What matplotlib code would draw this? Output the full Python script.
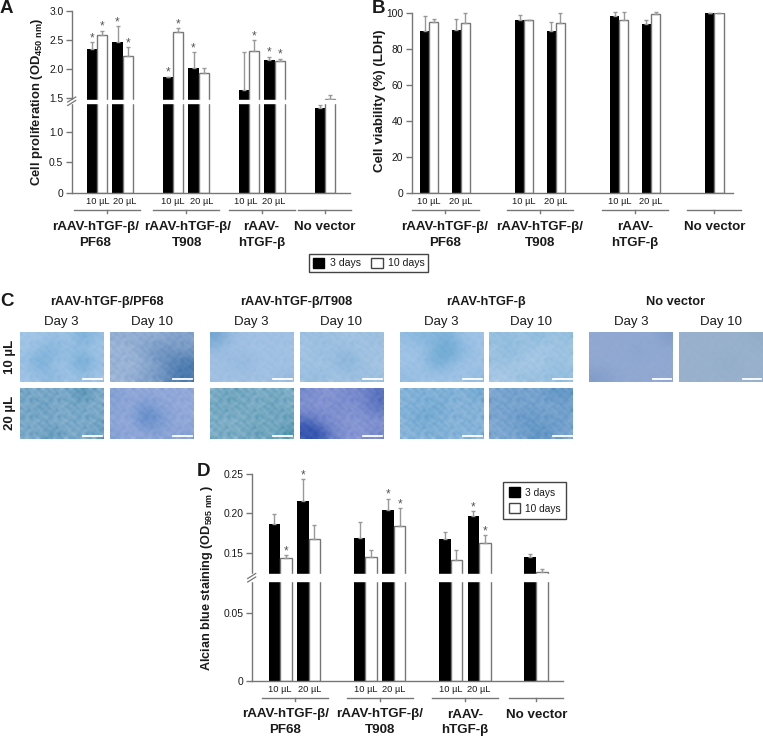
import numpy as np
import matplotlib
matplotlib.use('Agg')
import matplotlib.pyplot as plt
from matplotlib.colors import LinearSegmentedColormap
from matplotlib.lines import Line2D
from matplotlib.patches import Patch

W, H = 763, 737
plt.rcParams['font.family'] = ['Liberation Sans', 'DejaVu Sans']
plt.rcParams['mathtext.fontset'] = 'custom'
plt.rcParams['mathtext.rm'] = 'Liberation Sans'
plt.rcParams['mathtext.bf'] = 'Liberation Sans:bold'

# bar positions, in pair slots
pair_pos = [0, 1, 3, 4, 6, 7, 9]
group_names = ['rAAV-hTGF-β/\nPF68', 'rAAV-hTGF-β/\nT908', 'rAAV-\nhTGF-β', 'No vector']

# panel A
a_3d = [2.34, 2.46, 1.87, 2.02, 1.64, 2.15, 1.38]
a_10d = [2.58, 2.22, 2.64, 1.93, 2.31, 2.14, 1.48]
a_3d_err = [0.12, 0.27, 0, 0.27, 0.65, 0.06, 0.05]
a_10d_err = [0.08, 0.16, 0.06, 0.08, 0.19, 0.04, 0.08]
a_3d_star = [1, 1, 1, 1, 0, 1, 0]
a_10d_star = [1, 1, 1, 0, 1, 1, 0]
a_ticks = [0, 0.5, 1, 1.5, 2, 2.5, 3]
a_ticklabels = ['0', '0.5', '1.0', '1.5', '2.0', '2.5', '3.0']

# panel B
b_3d = [90, 90.5, 96.5, 90, 98.5, 94, 100]
b_10d = [95, 94.5, 96, 94.5, 96.5, 99.5, 100]
b_3d_err = [8.5, 6.5, 2.5, 5, 2, 2, 0]
b_10d_err = [2, 5.5, 0, 5.5, 4, 1, 0.3]
b_ticks = [0, 20, 40, 60, 80, 100]

# panel D
d_3d = [0.186, 0.216, 0.169, 0.204, 0.167, 0.197, 0.145]
d_10d = [0.143, 0.167, 0.145, 0.184, 0.141, 0.162, 0.125]
d_3d_err = [0.013, 0.028, 0.020, 0.015, 0.009, 0.006, 0.003]
d_10d_err = [0.004, 0.018, 0.009, 0.023, 0.012, 0.010, 0.004]
d_3d_star = [0, 1, 0, 1, 0, 1, 0]
d_10d_star = [1, 0, 0, 1, 0, 1, 0]
d_ticks = [0, 0.05, 0.15, 0.20, 0.25]
d_ticklabels = ['0', '0.05', '0.15', '0.20', '0.25']

# micrographs: blotch darkness 0-9, with its light and dark colour
c_titles = ['rAAV-hTGF-β/PF68', 'rAAV-hTGF-β/T908', 'rAAV-hTGF-β', 'No vector']
img_tones_10 = [
    [[1, 1, 2, 1, 5, 2], [1, 3, 4, 2, 2, 1], [2, 6, 1, 2, 7, 2], [1, 2, 3, 1, 2, 1]],
    [[2, 2, 2, 2, 3, 3], [1, 2, 3, 5, 4, 4], [2, 1, 2, 4, 6, 7], [1, 2, 3, 4, 6, 8]],
    [[6, 2, 1, 1, 1, 1], [2, 1, 1, 1, 1, 1], [1, 2, 3, 1, 1, 1], [1, 1, 1, 1, 1, 2]],
    [[2, 2, 2, 1, 2, 2], [1, 3, 2, 3, 1, 2], [2, 1, 3, 5, 2, 1], [2, 3, 1, 2, 2, 2]],
    [[2, 3, 3, 4, 1, 1], [1, 1, 4, 6, 3, 1], [1, 1, 5, 3, 1, 1], [2, 1, 1, 1, 1, 2]],
    [[3, 3, 2, 4, 2, 3], [2, 4, 3, 1, 2, 2], [3, 2, 1, 1, 3, 2], [1, 1, 3, 2, 3, 3]],
    [[3, 3, 3, 3, 3, 5], [3, 3, 3, 4, 3, 3], [3, 3, 3, 3, 3, 3], [5, 4, 3, 3, 3, 3]],
    [[3, 3, 3, 3, 3, 4], [3, 3, 3, 3, 3, 3], [3, 3, 3, 4, 3, 3], [3, 3, 3, 3, 3, 3]],
]
img_tones_20 = [
    [[4, 3, 4, 3, 8, 3], [3, 6, 3, 4, 3, 3], [4, 3, 3, 3, 4, 4], [3, 4, 6, 3, 3, 5]],
    [[3, 2, 2, 2, 2, 2], [3, 2, 5, 3, 2, 2], [2, 2, 7, 5, 2, 2], [3, 2, 2, 3, 2, 3]],
    [[3, 5, 4, 3, 4, 3], [4, 5, 3, 4, 5, 4], [3, 3, 3, 5, 3, 5], [3, 4, 3, 6, 3, 8]],
    [[3, 2, 2, 3, 3, 5], [2, 2, 3, 2, 3, 5], [5, 3, 2, 2, 2, 2], [9, 7, 3, 2, 2, 3]],
    [[3, 4, 3, 4, 3, 5], [4, 3, 6, 3, 3, 3], [3, 6, 4, 3, 4, 3], [3, 3, 4, 3, 3, 3]],
    [[3, 4, 4, 3, 6, 5], [4, 3, 4, 4, 3, 4], [3, 4, 6, 4, 5, 4], [3, 3, 4, 6, 5, 3]],
]
img_colours_10 = [
    ('#aecbec', '#4f97c9'), ('#b7c8e6', '#3268a4'), ('#abc6e8', '#5c98c8'), ('#b0cae8', '#5f9dcb'),
    ('#acc9ec', '#4a96c6'), ('#b5cfec', '#5a9ec9'), ('#a9badf', '#6d8fc0'), ('#a9bdd6', '#7d9dbd'),
]
img_colours_20 = [
    ('#9dbddd', '#2f7aa5'), ('#aeb6e2', '#3f76bd'), ('#9abcdb', '#2f7f9f'),
    ('#aab2e3', '#2245a8'), ('#a8c2e4', '#3d8bc0'), ('#9fbce2', '#3579b3'),
]
# how strong the fine mottling is in each picture
img_grain_10 = [0.2, 0.26, 0.16, 0.22, 0.16, 0.24, 0.06, 0.06]
img_grain_20 = [0.42, 0.24, 0.44, 0.22, 0.38, 0.32]
# hand-drawn mottling cell, tiled over a picture
grain_cell = [
    [2, 7, 4, 1, 8, 3, 6, 0, 5, 9, 2],
    [6, 1, 9, 5, 2, 7, 1, 8, 3, 4, 7],
    [3, 8, 0, 6, 4, 9, 5, 2, 7, 1, 5],
    [9, 4, 7, 2, 8, 0, 3, 6, 1, 8, 0],
    [1, 5, 3, 9, 1, 6, 8, 4, 9, 2, 6],
    [7, 0, 8, 4, 6, 2, 9, 1, 5, 7, 3],
    [4, 9, 2, 7, 0, 5, 3, 7, 2, 0, 8],
]
img_x = [(20, 103.3), (110, 193.3), (210, 293.3), (300, 383.3),
         (400, 483.3), (489.3, 573.3), (589.3, 672.7), (679.3, 762.7)]

AXIS = '#777777'
TXT = '#1a1a1a'


def fx(x):
    return x / W


def fy(y):
    return 1 - y / H


def px_axes(x0, y0, x1, y1):
    return fig.add_axes([fx(x0), fy(y1), (x1 - x0) / W, (y1 - y0) / H])


def broken_scale(ax, vals, pix):
    def fwd(v):
        return np.interp(v, vals, pix)

    def inv(p):
        return np.interp(p, pix, vals)
    ax.set_yscale('function', functions=(fwd, inv))
    ax.minorticks_off()
    ax.axhspan(vals[1], vals[2], xmin=-0.02, xmax=1, color='white', zorder=3, clip_on=False)


def bars(ax, y3, y10, e3, e10, width, star3=None, star10=None):
    pos = np.array(pair_pos, dtype=float)
    x3 = pos - width / 2
    x10 = pos + width / 2
    ax.bar(x3, y3, width, color='black', zorder=1)
    ax.bar(x10, y10, width, color='white', edgecolor=AXIS, linewidth=1, zorder=1)
    for x, y, e in ((x3, y3, e3), (x10, y10, e10)):
        ax.errorbar(x, y, yerr=[np.zeros(len(e)), e], fmt='none', ecolor='#999999',
                    elinewidth=1, capsize=1.6, capthick=1, zorder=2, clip_on=False)
    for x, y, e, st in ((x3, y3, e3, star3), (x10, y10, e10, star10)):
        if st is None:
            continue
        for xi, yi, ei, s in zip(x, y, e, st):
            if s:
                ax.annotate('*', (xi, yi + ei), xytext=(0, -1.5), textcoords='offset points',
                            ha='center', va='bottom', fontsize=8.5, color='#555555')


def style(ax, ticks, ticklabels, xlim):
    ax.set_xlim(*xlim)
    ax.set_xticks([])
    ax.set_yticks(ticks)
    ax.set_yticklabels(ticklabels, fontsize=7.4, color=TXT)
    ax.tick_params(axis='y', length=4, width=1, color=AXIS, pad=2)
    ax.spines[['top', 'right']].set_visible(False)
    ax.spines[['left', 'bottom']].set_color(AXIS)
    ax.spines[['left', 'bottom']].set_linewidth(1)
    ax.patch.set_alpha(0)


def under_axis(ax, ax_h, dose_pos, spans, label_x, label_drop):
    # dose labels, group rules with a small tick, group names
    trans = ax.get_xaxis_transform()
    for i, x in enumerate(dose_pos):
        ax.text(x, -9 / ax_h, '10 µL' if i % 2 == 0 else '20 µL', transform=trans,
                ha='center', va='center', fontsize=6.7, color=TXT)
    for a, b in spans:
        ax.plot([a, b], [-17.3 / ax_h] * 2, transform=trans, color=AXIS, lw=1, clip_on=False)
        ax.plot([(a + b) / 2] * 2, [-17.3 / ax_h, -20.3 / ax_h], transform=trans, color=AXIS,
                lw=1, clip_on=False)
    for name, x in zip(group_names, label_x):
        ax.text(x, -label_drop / ax_h, name, transform=trans, ha='center', va='top', fontsize=9.6,
                fontweight='bold', color=TXT, linespacing=1.42)


def break_marks(x, y):
    for dy in (0, 3.5):
        fig.add_artist(Line2D([fx(x - 4), fx(x + 4)], [fy(y + 2.5 + dy), fy(y - 2.5 + dy)],
                              color=AXIS, lw=0.9))


fig = plt.figure(figsize=(W / 100, H / 100), dpi=100)

# A
ax = px_axes(71.7, 10.7, 350, 192.7)
ax.set_ylim(0, 3)
broken_scale(ax, [0, 1.46, 1.47, 3.0], [0, 89.2, 92.7, 182])
bars(ax, a_3d, a_10d, a_3d_err, a_10d_err, 0.4, a_3d_star, a_10d_star)
style(ax, a_ticks, a_ticklabels, (-1.01, 9.98))
under_axis(ax, 182, [0, 1.1, 3, 4.12, 5.87, 6.98],
           [(-0.92, 1.69), (2.19, 4.79), (5.19, 7.8), (7.93, 10.03)],
           [-0.07, 3.56, 6.49, 8.99], 28.5)
break_marks(71.7, 99.5)
fig.text(fx(36.7), fy(101.7), r'Cell proliferation (OD$_{\mathbf{450\ nm}}$)', rotation=90, ha='center', va='center',
         fontsize=9.4, fontweight='bold', color=TXT)

# B
ax = px_axes(411.7, 13.3, 732.7, 192.7)
ax.set_ylim(0, 100)
bars(ax, b_3d, b_10d, b_3d_err, b_10d_err, 0.29)
style(ax, b_ticks, [str(t) for t in b_ticks], (-0.55, 9.58))
under_axis(ax, 179.4, [0, 1, 3, 4, 6, 7],
           [(-0.53, 1.56), (2.46, 4.55), (5.47, 7.55), (8.15, 9.83)],
           [0.5, 3.5, 6.5, 9.0], 28.5)
fig.text(fx(380), fy(101), 'Cell viability (%) (LDH)', rotation=90, ha='center', va='center',
         fontsize=9.6, fontweight='bold', color=TXT)

# D
ax = px_axes(251.7, 474.3, 563.3, 681)
ax.set_ylim(0, 0.25)
broken_scale(ax, [0, 0.074, 0.1228, 0.25], [0, 100.3, 107, 206.7])
bars(ax, d_3d, d_10d, d_3d_err, d_10d_err, 0.405, d_3d_star, d_10d_star)
style(ax, d_ticks, d_ticklabels, (-1.0, 9.96))
under_axis(ax, 206.7, [0, 1.03, 3, 4, 6, 7],
           [(-0.64, 1.70), (2.34, 4.68), (5.33, 7.68), (8.06, 9.94)],
           [0.18, 3.5, 6.5, 9.03], 27.5)
break_marks(251.7, 576)
fig.text(fx(206.7), fy(577.5), r'Alcian blue staining (OD$_{\mathbf{595\ nm}}$ )', rotation=90, ha='center', va='center',
         fontsize=9.1, fontweight='bold', color=TXT)

# legends
handles = [Patch(facecolor='black', edgecolor='black'), Patch(facecolor='white', edgecolor='#444444')]
leg_labels = ['3 days', '10 days']
fig.legend(handles, leg_labels, loc='center', bbox_to_anchor=(fx(368.7), fy(263)), ncol=2, fontsize=7.6,
           fancybox=False, edgecolor='#444444', framealpha=1, handlelength=1.1, handleheight=1.1,
           handletextpad=0.5, columnspacing=1.0, labelcolor=TXT, borderpad=0.35).get_frame().set_linewidth(1)
fig.legend(handles, leg_labels, loc='center', bbox_to_anchor=(fx(534.5), fy(500.6)), ncol=1, fontsize=7.3,
           fancybox=False, edgecolor='#444444', framealpha=1, handlelength=1.1, handleheight=1.1,
           handletextpad=0.5, labelspacing=0.55, labelcolor=TXT, borderpad=0.55).get_frame().set_linewidth(1)


# C: micrographs
def micrograph(x0, x1, y0, y1, tones, colours, grain):
    ax = px_axes(x0, y0, x1, y1)
    cmap = LinearSegmentedColormap.from_list('stain', colours)
    ax.imshow(tones, cmap=cmap, vmin=0, vmax=7, aspect='auto', interpolation='bicubic',
              extent=(0, 1, 0, 1))
    # fine mottling on top, tiled and shifted per picture so the tiles do not line up
    mottled = np.roll(np.tile(grain_cell, (3, 3)), int(x0) % 11, axis=1)
    gcmap = LinearSegmentedColormap.from_list('grain', ['white', colours[1]])
    ax.imshow(mottled, cmap=gcmap, aspect='auto', interpolation='bicubic', alpha=grain,
              extent=(0, 1, 0, 1))
    ax.set_xlim(0, 1)
    ax.set_ylim(0, 1)
    ax.axis('off')
    for a, b in ((0.76, 0.86), (0.875, 0.98)):
        ax.plot([a, b], [0.06, 0.06], color='white', lw=1.3)


for (x0, x1), tones, colours, g in zip(img_x, img_tones_10, img_colours_10, img_grain_10):
    micrograph(x0, x1, 331.7, 382, tones, colours, g)
for (x0, x1), tones, colours, g in zip(img_x, img_tones_20, img_colours_20, img_grain_20):
    micrograph(x0, x1, 388.3, 438.7, tones, colours, g)

for name, x in zip(c_titles, (106.7, 296, 486, 676)):
    fig.text(fx(x), fy(302.3), name, ha='center', va='center', fontsize=9.2, fontweight='bold', color=TXT)
for x, lab in zip((61.7, 151.7, 251.7, 341, 441.7, 531, 631, 721), ['Day 3', 'Day 10'] * 4):
    fig.text(fx(x), fy(322.3), lab, ha='center', va='center', fontsize=9.5, color=TXT)
for y, lab in ((356.7, '10 µL'), (413.3, '20 µL')):
    fig.text(fx(10), fy(y), lab, rotation=90, ha='center', va='center', fontsize=9.5, fontweight='bold', color=TXT)

# panel letters
for x, y, lab in ((0, 8.5, 'A'), (372, 8.5, 'B'), (0, 301, 'C'), (197, 472, 'D')):
    fig.text(fx(x), fy(y), lab, ha='left', va='center', fontsize=13.5, fontweight='bold', color=TXT)

fig.savefig('out.png', dpi=100)
